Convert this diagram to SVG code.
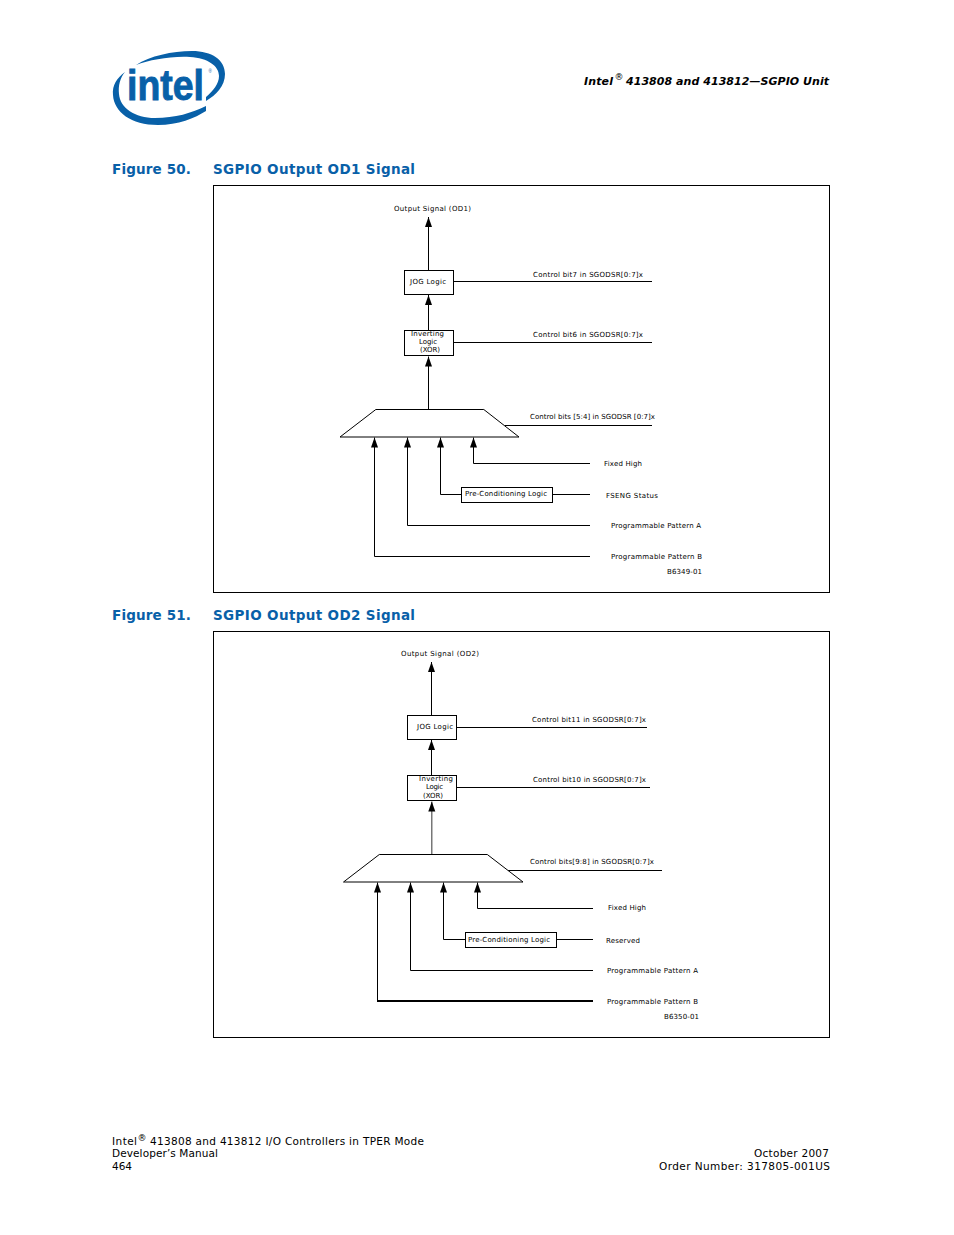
<svg xmlns="http://www.w3.org/2000/svg" width="954" height="1235" viewBox="0 0 954 1235">
<style>
text{font-family:"DejaVu Sans","Liberation Sans",sans-serif;fill:#000}
.t{font-size:7px}
.fig{font-size:13.5px;font-weight:bold;fill:#0860a8}
.hd{font-size:11px;font-weight:bold;font-style:italic}
.ft{font-size:10.5px}
.sup{font-size:9px;font-weight:normal;font-style:normal}
.frame{fill:#fff;stroke:#000;stroke-width:1}
.box{fill:#fff;stroke:#000;stroke-width:1}
.c{fill:none;stroke:#000;stroke-width:1}
.logo{fill:#0860a8}
</style>
<defs>
<marker id="a" markerUnits="userSpaceOnUse" markerWidth="10" markerHeight="8" refX="10" refY="3.5" orient="auto" viewBox="0 0 10 7"><path d="M10 3.5L0 7V0Z" fill="#000"/></marker>
</defs>
<rect width="954" height="1235" fill="#fff"/>
<g id="logo">
<path class="logo" d="M136 65C150 56 172 51 192 51C212 51 225 60 225 74C225 86 216 95 206 101L206 97C213 91 219 84 219 76C219 66 208 58 190 57C170 56 150 60 136 65Z"/>
<path class="logo" d="M125 72C117 78 112 85 113 95C114 112 131 125 158 125C178 125 195 118 206 111L206 106C192 113 175 118 155 118C135 118 120 108 119 94C118 86 120 78 125 72Z"/>
<text x="127" y="100" font-size="43" font-weight="bold" textLength="77" lengthAdjust="spacingAndGlyphs" stroke="#0860a8" stroke-width="0.9" style="font-family:'Liberation Sans',sans-serif;fill:#0860a8">intel</text>
<text x="208.500" y="72.500" font-size="4.500" style="font-family:'Liberation Sans',sans-serif;fill:#0860a8">®</text>
</g>
<g id="header">
<text class="hd" x="584" y="85" textLength="29">Intel</text>
<text class="sup" x="614.500" y="80">®</text>
<text class="hd" x="626" y="85" textLength="203">413808 and 413812—SGPIO Unit</text>
</g>
<text class="fig" x="112" y="174" textLength="79">Figure 50.</text>
<text class="fig" x="213" y="174" textLength="202">SGPIO Output OD1 Signal</text>
<text class="fig" x="112" y="620" textLength="79">Figure 51.</text>
<text class="fig" x="213" y="620" textLength="202">SGPIO Output OD2 Signal</text>
<rect id="frame50" class="frame" x="213.5" y="185.5" width="616" height="407"/>
<rect id="frame51" class="frame" x="213.5" y="631.5" width="616" height="406"/>

<g id="connectors50">
<path class="c" marker-end="url(#a)" d="M428.5 270.5V217"/>
<path class="c" marker-end="url(#a)" d="M428.5 330.5V295"/>
<path class="c" marker-end="url(#a)" d="M428.5 409V356.500"/>
<path class="c" d="M453.5 281.5H652M453.5 342.5H652M505 425.5H652"/>
<path class="c" marker-end="url(#a)" d="M590 463.5H473.5V437.5"/>
<path class="c" marker-end="url(#a)" d="M461.5 494.5H440.5V437.5"/>
<path class="c" d="M552.5 494.5H590"/>
<path class="c" marker-end="url(#a)" d="M590 525.5H407.5V437.5"/>
<path class="c" marker-end="url(#a)" d="M590 556.5H374.5V437.5"/>
</g>
<g id="connectors51">
<path class="c" marker-end="url(#a)" d="M431.5 715.5V662"/>
<path class="c" marker-end="url(#a)" d="M431.5 775.5V740"/>
<path class="c" style="stroke:#555;stroke-width:1.2" marker-end="url(#a)" d="M431.8 854V801.500"/>
<path class="c" d="M456.5 727.5H647M456.5 787.5H650M508 870.5H662"/>
<path class="c" marker-end="url(#a)" d="M593 908.5H477.5V882.5"/>
<path class="c" marker-end="url(#a)" d="M465.5 939.5H443.5V882.5"/>
<path class="c" d="M556.5 939.5H593"/>
<path class="c" marker-end="url(#a)" d="M593 970.5H410.5V882.5"/>
<path class="c" marker-end="url(#a)" d="M377.5 1001V882.5"/>
<path class="c" style="stroke-width:2" d="M593 1001H377"/>
</g>

<g id="out50"><text class="t" x="394" y="211" textLength="77">Output Signal (OD1)</text></g>
<g id="jog50"><rect class="box" x="404.5" y="270.5" width="49" height="24"/><text class="t" x="410" y="284" textLength="36">JOG Logic</text></g>
<g id="xor50"><rect class="box" x="404.5" y="330.5" width="49" height="25"/><text class="t" x="411" y="336" textLength="33">Inverting</text><text class="t" x="419" y="344" textLength="18">Logic</text><text class="t" x="420" y="352" textLength="20">(XOR)</text></g>
<g id="mux50"><path class="box" d="M375.8 409.5H483.8L519 437H340Z"/></g>
<g id="precond50"><rect class="box" x="461.5" y="487.5" width="91" height="15"/><text class="t" x="465" y="496" textLength="82">Pre-Conditioning Logic</text></g>
<g id="labels50">
<text class="t" x="533" y="277" textLength="110">Control bit7 in SGODSR[0:7]x</text>
<text class="t" x="533" y="337" textLength="110">Control bit6 in SGODSR[0:7]x</text>
<text class="t" x="530" y="419" textLength="125">Control bits [5:4] in SGODSR [0:7]x</text>
<text class="t" x="604" y="465.500" textLength="38">Fixed High</text>
<text class="t" x="606" y="498" textLength="52">FSENG Status</text>
<text class="t" x="611" y="528" textLength="90">Programmable Pattern A</text>
<text class="t" x="611" y="559" textLength="91">Programmable Pattern B</text>
<text class="t" x="667" y="574" textLength="35">B6349-01</text>
</g>

<g id="out51"><text class="t" x="401" y="656" textLength="78">Output Signal (OD2)</text></g>
<g id="jog51"><rect class="box" x="407.5" y="715.5" width="49" height="24"/><text class="t" x="417" y="729" textLength="36">JOG Logic</text></g>
<g id="xor51"><rect class="box" x="407.5" y="775.5" width="49" height="25"/><text class="t" x="419" y="781" textLength="34">Inverting</text><text class="t" x="426" y="789" textLength="17">Logic</text><text class="t" x="423" y="798" textLength="20">(XOR)</text></g>
<g id="mux51"><path class="box" d="M379.3 854.5H487.3L523 882H343.500Z"/></g>
<g id="precond51"><rect class="box" x="465.5" y="932.500" width="91" height="15"/><text class="t" x="468" y="942" textLength="82">Pre-Conditioning Logic</text></g>
<g id="labels51">
<text class="t" x="532" y="722" textLength="114">Control bit11 in SGODSR[0:7]x</text>
<text class="t" x="533" y="782" textLength="113">Control bit10 in SGODSR[0:7]x</text>
<text class="t" x="530" y="864" textLength="124">Control bits[9:8] in SGODSR[0:7]x</text>
<text class="t" x="608" y="910" textLength="38">Fixed High</text>
<text class="t" x="606" y="943" textLength="34">Reserved</text>
<text class="t" x="607" y="973" textLength="91">Programmable Pattern A</text>
<text class="t" x="607" y="1004" textLength="91">Programmable Pattern B</text>
<text class="t" x="664" y="1019" textLength="35">B6350-01</text>
</g>

<g id="footer">
<text class="ft" x="112" y="1145" textLength="25">Intel</text>
<text class="sup" x="137.500" y="1141">®</text>
<text class="ft" x="150" y="1145" textLength="274">413808 and 413812 I/O Controllers in TPER Mode</text>
<text class="ft" x="112" y="1157" textLength="106">Developer’s Manual</text>
<text class="ft" x="112" y="1170" textLength="20">464</text>
<text class="ft" x="754" y="1157" textLength="75">October 2007</text>
<text class="ft" x="659" y="1170" textLength="171">Order Number: 317805-001US</text>
</g>
</svg>
